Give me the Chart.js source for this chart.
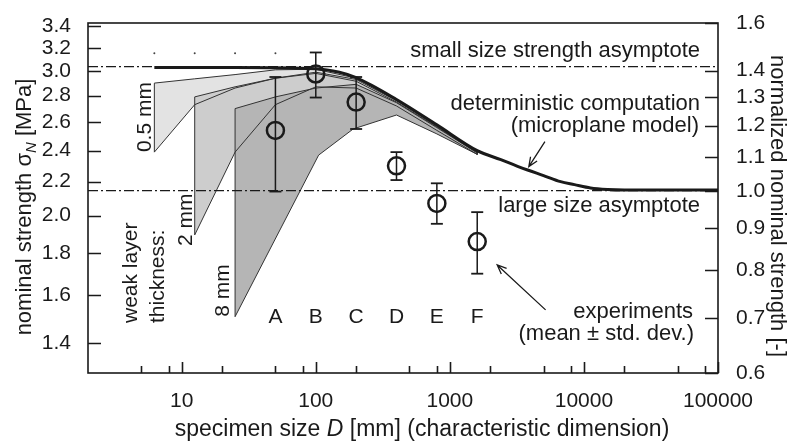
<!DOCTYPE html>
<html>
<head>
<meta charset="utf-8">
<script src="https://cdn.jsdelivr.net/npm/chart.js@4.4.1/dist/chart.umd.min.js"></script>
<style>
html,body{margin:0;padding:0;background:#fff;}
canvas{display:block;}
</style>
</head>
<body>
<canvas id="chart" width="797" height="441"></canvas>
<script>
// large size asymptote in MPa (normalized strength = 1)
const sigma0 = 2.145;

// experiments, mean +- std. dev.
const specimens = ["A", "B", "C", "D", "E", "F"];
const expSize = [50, 100, 200, 400, 800, 1600];
const expMean = [2.54, 2.975, 2.75, 2.30, 2.07, 1.86];
const expLow = [2.14, 2.785, 2.55, 2.21, 1.955, 1.70];
const expHigh = [2.95, 3.16, 2.95, 2.39, 2.19, 2.02];

// deterministic computation (microplane model)
const modelSize = [6.25, 25, 100, 150, 200, 400, 800, 1600, 2400, 3200, 3800, 5000, 6700, 8500, 11200, 15000, 20000, 100000];
const modelStrength = [3.03, 3.03, 3.02, 2.99, 2.945, 2.77, 2.58, 2.40, 2.34, 2.297, 2.273, 2.238, 2.20, 2.182, 2.162, 2.153, 2.15, 2.15];

// weak layer 0.5 mm
const band05UpperSize = [6.25, 12.5, 25, 50, 100, 200, 400, 800, 1600];
const band05Upper = [2.90, 2.935, 2.97, 3.01, 3.015, 2.94, 2.765, 2.575, 2.395];
const band05LowerSize = [6.25, 12.5, 25, 50, 100, 200, 400, 800, 1600];
const band05Lower = [2.39, 2.73, 2.86, 2.94, 2.98, 2.915, 2.75, 2.565, 2.385];

// weak layer 2 mm
const band2UpperSize = [12.5, 25, 50, 100, 200, 400, 800, 1600];
const band2Upper = [2.79, 2.87, 2.94, 2.99, 2.93, 2.76, 2.57, 2.39];
const band2LowerSize = [12.5, 25, 50, 100, 200, 400, 800, 1600];
const band2Lower = [1.895, 2.39, 2.73, 2.87, 2.86, 2.72, 2.54, 2.375];

// weak layer 8 mm
const band8UpperSize = [25, 50, 100, 200, 400, 800, 1600];
const band8Upper = [2.70, 2.79, 2.86, 2.89, 2.745, 2.56, 2.385];
const band8LowerSize = [25, 105, 190, 400, 800, 1600];
const band8Lower = [1.507, 2.37, 2.55, 2.652, 2.515, 2.375];

// asymptotes (normalized)
const smallAsymptote = 1.416;
const largeAsymptote = 1.0;

// small dots above the curves
const dotSize = [6.25, 12.5, 25, 50];
const dotStrength = [3.153, 3.153, 3.153, 3.153];

// axes
const xTicks = [5, 8, 10, 20, 50, 80, 100, 200, 500, 800, 1000, 2000, 5000, 8000, 10000, 20000, 50000, 80000, 100000];
const xLabels = [10, 100, 1000, 10000, 100000];
const yTicks = [1.4, 1.6, 1.8, 2.0, 2.2, 2.4, 2.6, 2.8, 3.0, 3.2, 3.4];
const y2Ticks = [0.6, 0.7, 0.8, 0.9, 1.0, 1.1, 1.2, 1.3, 1.4, 1.6];

// arrows [size, strength]
const arrows = [
  {from: [5117, 2.461], to: [3882, 2.295]},
  {from: [5176, 1.536], to: [2255, 1.742]}
];

const FONT = "'Liberation Sans', Arial, Helvetica, sans-serif";
const INK = "#1a1a1a";

function pts(xs, ys) {
  return xs.map((x, i) => ({x: x, y: ys[i]}));
}

function polygon(su, u, sl, l) {
  const p = pts(su, u);
  for (let i = sl.length - 1; i >= 0; i--) p.push({x: sl[i], y: l[i]});
  p.push({x: su[0], y: u[0]});
  return p;
}

const errData = [];
expSize.forEach((d, i) => {
  errData.push({x: d, y: expLow[i]}, {x: d, y: expHigh[i]}, {x: d, y: null});
});

// fills of the weak layer bands, drawn before all lines
const bandFill = {
  id: "bandFill",
  beforeDatasetsDraw(chart) {
    const ctx = chart.ctx;
    const a = chart.chartArea;
    ctx.save();
    ctx.beginPath();
    ctx.rect(a.left, a.top, a.right - a.left, a.bottom - a.top);
    ctx.clip();
    for (let i = chart.data.datasets.length - 1; i >= 0; i--) {
      const ds = chart.data.datasets[i];
      if (!ds.bandColor) continue;
      const p = chart.getDatasetMeta(i).data;
      ctx.beginPath();
      p.forEach((el, k) => k ? ctx.lineTo(el.x, el.y) : ctx.moveTo(el.x, el.y));
      ctx.closePath();
      ctx.fillStyle = ds.bandColor;
      ctx.fill();
    }
    ctx.restore();
  }
};

function text(ctx, s, x, y, align, size, rot) {
  ctx.save();
  ctx.translate(x, y);
  if (rot) ctx.rotate(rot);
  ctx.font = size + "px " + FONT;
  ctx.textAlign = align;
  ctx.textBaseline = "alphabetic";
  ctx.fillText(s, 0, 0);
  ctx.restore();
}

// rich text: parts of [string, italic, size, shift]
function richText(ctx, parts, x, y, rot) {
  ctx.save();
  ctx.translate(x, y);
  ctx.rotate(rot);
  ctx.textBaseline = "alphabetic";
  ctx.textAlign = "left";
  let w = 0;
  parts.forEach(p => {
    ctx.font = (p[1] ? "italic " : "") + p[2] + "px " + FONT;
    w += ctx.measureText(p[0]).width;
  });
  let cx = -w / 2;
  parts.forEach(p => {
    ctx.font = (p[1] ? "italic " : "") + p[2] + "px " + FONT;
    ctx.fillText(p[0], cx, p[3]);
    cx += ctx.measureText(p[0]).width;
  });
  ctx.restore();
}

const frame = {
  id: "frame",
  afterDraw(chart) {
    const ctx = chart.ctx;
    const a = chart.chartArea;
    const sx = chart.scales.x, sy = chart.scales.y, sy2 = chart.scales.y2;
    ctx.save();
    ctx.strokeStyle = INK;
    ctx.lineWidth = 1.6;
    ctx.strokeRect(a.left, a.top, a.right - a.left, a.bottom - a.top);
    ctx.beginPath();
    xTicks.forEach(v => {
      const p = Math.round(sx.getPixelForValue(v)) + 0.5;
      const len = xLabels.includes(v) ? 11 : 7;
      ctx.moveTo(p, a.bottom);
      ctx.lineTo(p, a.bottom - len);
    });
    yTicks.forEach(v => {
      const p = Math.round(sy.getPixelForValue(v)) + 0.5;
      ctx.moveTo(a.left, p);
      ctx.lineTo(a.left + 13, p);
    });
    y2Ticks.forEach(v => {
      const p = Math.round(sy2.getPixelForValue(v)) + 0.5;
      ctx.moveTo(a.right, p);
      ctx.lineTo(a.right - 13, p);
    });
    ctx.stroke();

    // arrows
    ctx.lineWidth = 1.3;
    arrows.forEach(ar => {
      const x0 = sx.getPixelForValue(ar.from[0]), y0 = sy.getPixelForValue(ar.from[1]);
      const x1 = sx.getPixelForValue(ar.to[0]), y1 = sy.getPixelForValue(ar.to[1]);
      const ang = Math.atan2(y1 - y0, x1 - x0);
      ctx.beginPath();
      ctx.moveTo(x0, y0);
      ctx.lineTo(x1, y1);
      ctx.moveTo(x1 - 10 * Math.cos(ang - 0.4), y1 - 10 * Math.sin(ang - 0.4));
      ctx.lineTo(x1, y1);
      ctx.lineTo(x1 - 10 * Math.cos(ang + 0.4), y1 - 10 * Math.sin(ang + 0.4));
      ctx.stroke();
    });

    ctx.fillStyle = INK;
    // annotations
    text(ctx, "small size strength asymptote", 700, 57, "right", 22);
    text(ctx, "deterministic computation", 700, 110, "right", 22);
    text(ctx, "(microplane model)", 699, 132, "right", 22);
    text(ctx, "large size asymptote", 700, 212, "right", 22);
    text(ctx, "experiments", 693, 318, "right", 22);
    text(ctx, "(mean \u00b1 std. dev.)", 694, 340, "right", 22);

    specimens.forEach((s, i) => {
      text(ctx, s, sx.getPixelForValue(expSize[i]), a.bottom - 50, "center", 21);
    });

    // weak layer thickness labels
    const up = -Math.PI / 2;
    text(ctx, "0.5 mm", sx.getPixelForValue(band05LowerSize[0]) - 3, sy.getPixelForValue(band05Lower[0]), "left", 21, up);
    text(ctx, "2 mm", sx.getPixelForValue(band2LowerSize[0]) - 3, sy.getPixelForValue(band2Lower[0]) + 11, "left", 21, up);
    text(ctx, "8 mm", sx.getPixelForValue(band8LowerSize[0]) - 6, sy.getPixelForValue(band8Lower[0]), "left", 21, up);
    text(ctx, "weak layer", 137, 323, "left", 21, up);
    text(ctx, "thickness:", 164, 323, "left", 21, up);

    // axis titles
    richText(ctx, [["specimen size ", false, 23, 0], ["D", true, 23, 0], [" [mm] (characteristic dimension)", false, 23, 0]], 422, 436, 0);
    richText(ctx, [["nominal strength \u03c3", false, 22, 0], ["N", true, 15, 5], [" [MPa]", false, 22, 0]], 31, 207, up);
    richText(ctx, [["normalized nominal strength [-]", false, 22, 0]], 771, 206, Math.PI / 2);
    ctx.restore();
  }
};

const tickFont = {family: FONT, size: 21};

new Chart(document.getElementById("chart"), {
  type: "line",
  data: {
    datasets: [
      {
        data: pts(expSize, expMean),
        showLine: false,
        pointStyle: "circle",
        pointRadius: 8.5,
        pointBorderWidth: 2.5,
        pointBorderColor: INK,
        pointBackgroundColor: "rgba(0,0,0,0)"
      },
      {
        data: errData,
        borderColor: INK,
        borderWidth: 1.5,
        spanGaps: false,
        pointStyle: "line",
        pointRadius: 6,
        pointBorderWidth: 1.8,
        pointBorderColor: INK
      },
      {
        data: pts(modelSize, modelStrength),
        borderColor: INK,
        borderWidth: 3,
        cubicInterpolationMode: "monotone",
        pointRadius: 0
      },
      {
        data: [{x: 2, y: smallAsymptote}, {x: 100000, y: smallAsymptote}],
        yAxisID: "y2",
        borderColor: INK,
        borderWidth: 1.2,
        borderDash: [10, 3, 2, 3],
        pointRadius: 0
      },
      {
        data: [{x: 2, y: largeAsymptote}, {x: 100000, y: largeAsymptote}],
        yAxisID: "y2",
        borderColor: INK,
        borderWidth: 1.2,
        borderDash: [10, 3, 2, 3],
        pointRadius: 0
      },
      {
        data: pts(dotSize, dotStrength),
        showLine: false,
        pointRadius: 1,
        pointBorderWidth: 0,
        pointBackgroundColor: "#444"
      },
      {
        data: polygon(band8UpperSize, band8Upper, band8LowerSize, band8Lower),
        bandColor: "#b5b5b5",
        borderColor: "#333",
        borderWidth: 1,
        pointRadius: 0
      },
      {
        data: polygon(band2UpperSize, band2Upper, band2LowerSize, band2Lower),
        bandColor: "#cdcdcd",
        borderColor: "#333",
        borderWidth: 1,
        pointRadius: 0
      },
      {
        data: polygon(band05UpperSize, band05Upper, band05LowerSize, band05Lower),
        bandColor: "#e3e3e3",
        borderColor: "#333",
        borderWidth: 1,
        pointRadius: 0
      }
    ]
  },
  options: {
    responsive: false,
    animation: false,
    devicePixelRatio: 1,
    layout: {padding: {top: 23, left: 0, right: 0, bottom: 0}},
    plugins: {legend: {display: false}, tooltip: {enabled: false}},
    scales: {
      x: {
        type: "logarithmic",
        position: "bottom",
        min: 2,
        max: 100000,
        grid: {display: false},
        border: {display: false},
        afterBuildTicks: s => { s.ticks = xTicks.map(v => ({value: v})); },
        afterFit: s => { s.height = 68; },
        ticks: {
          autoSkip: false,
          maxRotation: 0,
          padding: 8,
          color: INK,
          font: tickFont,
          callback: v => xLabels.includes(v) ? String(v) : ""
        }
      },
      y: {
        type: "logarithmic",
        position: "left",
        min: sigma0 * 0.6,
        max: sigma0 * 1.6,
        grid: {display: false},
        border: {display: false},
        afterBuildTicks: s => { s.ticks = yTicks.map(v => ({value: v})); },
        afterFit: s => { s.width = 88; },
        ticks: {autoSkip: false, padding: 9, color: INK, font: tickFont, callback: v => v.toFixed(1)}
      },
      y2: {
        type: "logarithmic",
        position: "right",
        min: 0.6,
        max: 1.6,
        grid: {display: false},
        border: {display: false},
        afterBuildTicks: s => { s.ticks = y2Ticks.map(v => ({value: v})); },
        afterFit: s => { s.width = 79; },
        ticks: {autoSkip: false, padding: 10, color: INK, font: tickFont, callback: v => v.toFixed(1)}
      }
    }
  },
  plugins: [bandFill, frame]
});
</script>
</body>
</html>
